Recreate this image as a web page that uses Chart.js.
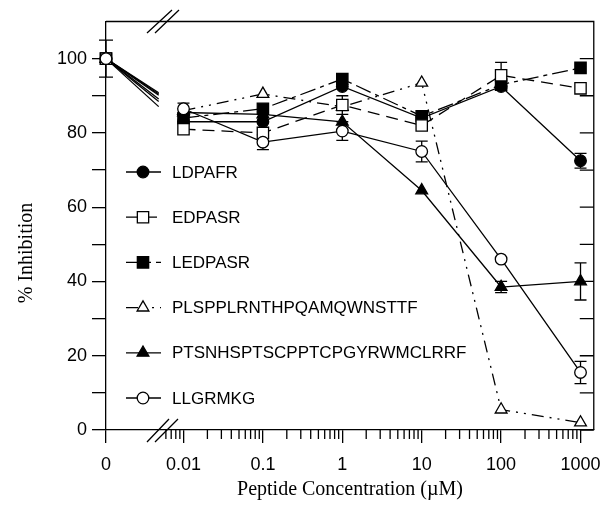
<!DOCTYPE html>
<html>
<head>
<meta charset="utf-8">
<script src="https://cdn.jsdelivr.net/npm/chart.js@4.4.1/dist/chart.umd.min.js"></script>
<style>
  html, body { margin: 0; padding: 0; background: #fff; }
  #wrap { width: 612px; height: 522px; }
</style>
</head>
<body>
<div id="wrap"><canvas id="myChart" width="612" height="522"></canvas></div>
<script>
// concentrations in uM, 0 is drawn left of the axis break
let concentrations = [0, 0.01, 0.1, 1, 10, 100, 1000];
let xTickLabels = ['0', '0.01', '0.1', '1', '10', '100', '1000'];
let yTickValues = [0, 10, 20, 30, 40, 50, 60, 70, 80, 90, 100];

let seriesNames = ['LDPAFR', 'EDPASR', 'LEDPASR', 'PLSPPLRNTHPQAMQWNSTTF', 'PTSNHSPTSCPPTCPGYRWMCLRRF', 'LLGRMKG'];

let ldpafr  = [100, 83, 83, 92.5, 84, 92.5, 72.5];
let edpasr  = [100, 81, 80, 87.5, 82, 95.5, 92];
let ledpasr = [100, 84, 86.5, 94.5, 84.5, 93, 97.5];
let plspp   = [100, 86, 90.5, 87, 93.5, 5.5, 2];
let ptsnh   = [100, 85.5, 85, 83, 64.5, 38.5, 40];
let llgrmkg = [100, 86.5, 77.5, 80.5, 75, 46, 15.5];

// half-width of the error bars (null = none drawn)
let ldpafrErr  = [null, null, null, null, null, null, 2];
let edpasrErr  = [null, null, null, 2.5, null, 3.5, null];
let ledpasrErr = [null, null, null, null, null, null, null];
let plsppErr   = [null, null, null, null, null, null, null];
let ptsnhErr   = [null, null, null, null, null, 1.5, 5];
let llgrmkgErr = [5, 1.5, 2, 2.5, 2.8, null, 3];

let zeroPos = -2.976;   // where "0" sits on the log axis
let xMin = -2.976, xMax = 3.167;
let xOf = c => c === 0 ? zeroPos : Math.log10(c);

let styles = [
  {pointStyle: 'circle',   radius: 5.8, fill: '#000', dash: [], order: 2},
  {pointStyle: 'rect',     radius: 8,   fill: '#fff', dash: [12, 7], order: 1},
  {pointStyle: 'rect',     radius: 8,   fill: '#000', dash: [16, 5, 4, 5], order: 2},
  {pointStyle: 'triangle', radius: 6.8, fill: '#fff', dash: [12, 6, 2, 6, 2, 6], order: 2},
  {pointStyle: 'triangle', radius: 6.8, fill: '#000', dash: [], order: 2},
  {pointStyle: 'circle',   radius: 5.8, fill: '#fff', dash: [], order: 0}
];
let allValues = [ldpafr, edpasr, ledpasr, plspp, ptsnh, llgrmkg];
let allErrors = [ldpafrErr, edpasrErr, ledpasrErr, plsppErr, ptsnhErr, llgrmkgErr];

let datasets = seriesNames.map((name, s) => ({
  label: name,
  data: concentrations.map((c, i) => ({x: xOf(c), y: allValues[s][i]})),
  order: styles[s].order,
  borderColor: '#000',
  borderWidth: 1.3,
  borderDash: styles[s].dash,
  pointStyle: styles[s].pointStyle,
  pointRadius: styles[s].radius,
  pointBackgroundColor: styles[s].fill,
  pointBorderColor: '#000',
  pointBorderWidth: 1.3,
  fill: false,
  tension: 0,
  clip: false,
  segment: {
    // the segment from 0 to 0.01 stops at the axis break
    borderDash: ctx => {
      if (ctx.p0DataIndex !== 0) return undefined;
      let d = Math.hypot(ctx.p1.x - ctx.p0.x, ctx.p1.y - ctx.p0.y);
      return [d * 0.68, 3000];
    }
  }
}));

let decorations = {
  id: 'decorations',
  beforeDatasetsDraw(chart) {
    let ctx = chart.ctx, xs = chart.scales.x, ys = chart.scales.y;
    ctx.save();
    ctx.strokeStyle = '#000';
    ctx.lineWidth = 1.3;
    allErrors.forEach((errs, s) => errs.forEach((e, i) => {
      if (e == null) return;
      let px = xs.getPixelForValue(xOf(concentrations[i]));
      let top = ys.getPixelForValue(allValues[s][i] + e);
      let bot = ys.getPixelForValue(allValues[s][i] - e);
      let cap = i === 0 ? 7 : 6;
      ctx.beginPath();
      ctx.moveTo(px, top); ctx.lineTo(px, bot);
      ctx.moveTo(px - cap, top); ctx.lineTo(px + cap, top);
      ctx.moveTo(px - cap, bot); ctx.lineTo(px + cap, bot);
      ctx.stroke();
    }));
    ctx.restore();
  },
  afterDraw(chart) {
    let ctx = chart.ctx, xs = chart.scales.x, ys = chart.scales.y;
    let a = chart.chartArea;
    ctx.save();
    ctx.strokeStyle = '#000';
    ctx.fillStyle = '#000';
    ctx.lineWidth = 1.3;

    // top and right border
    ctx.beginPath();
    ctx.moveTo(a.left, a.top); ctx.lineTo(a.right, a.top); ctx.lineTo(a.right, a.bottom);
    ctx.stroke();

    // inward ticks on the right side
    ctx.beginPath();
    yTickValues.forEach(v => {
      let py = ys.getPixelForValue(v);
      ctx.moveTo(a.right, py); ctx.lineTo(a.right - 14, py);
    });
    ctx.stroke();

    // minor log ticks on the x axis
    ctx.beginPath();
    for (let n = -3; n <= 2; n++) {
      for (let k = 2; k <= 9; k++) {
        let c = k * Math.pow(10, n);
        if (c < 0.0055) continue;
        let px = xs.getPixelForValue(Math.log10(c));
        ctx.moveTo(px, a.bottom); ctx.lineTo(px, a.bottom + 9);
      }
    }
    ctx.stroke();

    // axis break marks
    ctx.beginPath();
    [[147, 442, 169, 419], [155, 442, 178, 419], [147, 33, 172, 10], [155, 33, 179, 10]].forEach(l => {
      ctx.moveTo(l[0], l[1]); ctx.lineTo(l[2], l[3]);
    });
    ctx.stroke();

    // legend
    ctx.font = '17px "Liberation Sans", Arial, sans-serif';
    ctx.textBaseline = 'middle';
    ctx.textAlign = 'left';
    seriesNames.forEach((name, s) => {
      let y = 172 + s * 45.2;
      ctx.save();
      ctx.setLineDash(styles[s].dash);
      ctx.beginPath();
      ctx.moveTo(126, y); ctx.lineTo(161, y);
      ctx.stroke();
      ctx.restore();
      ctx.save();
      ctx.fillStyle = styles[s].fill;
      ctx.strokeStyle = '#000';
      ctx.lineWidth = 1.3;
      Chart.helpers.drawPoint(ctx, {pointStyle: styles[s].pointStyle, radius: styles[s].radius, rotation: 0, borderWidth: 1.3}, 143, y);
      ctx.restore();
      ctx.fillText(name, 172, y + 1);
    });

    // axis titles
    ctx.font = '20px "Liberation Serif", "Times New Roman", serif';
    ctx.textAlign = 'center';
    ctx.fillText('Peptide Concentration (\u00b5M)', 350, 490);
    ctx.save();
    ctx.translate(27, 253);
    ctx.rotate(-Math.PI / 2);
    ctx.fillText('% Inhibition', 0, 0);
    ctx.restore();

    ctx.restore();
  }
};

let ctx = document.getElementById('myChart').getContext('2d');
window.chart = new Chart(ctx, {
  type: 'line',
  data: { datasets: datasets },
  options: {
    responsive: false,
    animation: false,
    layout: { padding: { left: 0, right: 17, top: 21.5, bottom: 0 } },
    plugins: { legend: { display: false }, tooltip: { enabled: false } },
    scales: {
      x: {
        type: 'linear',
        min: xMin,
        max: xMax,
        afterBuildTicks: scale => {
          scale.ticks = concentrations.map(c => ({value: xOf(c)}));
        },
        afterFit: scale => { scale.height = 92; },
        grid: { drawOnChartArea: false, color: '#000', lineWidth: 1.3, tickLength: 13 },
        border: { color: '#000', width: 1.3 },
        ticks: {
          autoSkip: false,
          maxRotation: 0,
          padding: 11,
          color: '#000',
          font: { family: '"Liberation Sans", Arial, sans-serif', size: 18 },
          callback: (value, index) => xTickLabels[index]
        }
      },
      y: {
        min: 0,
        max: 110,
        afterBuildTicks: scale => {
          scale.ticks = yTickValues.map(v => ({value: v}));
        },
        afterFit: scale => { scale.width = 106; },
        grid: { drawOnChartArea: false, color: '#000', lineWidth: 1.3, tickLength: 14 },
        border: { color: '#000', width: 1.3 },
        ticks: {
          padding: 5,
          color: '#000',
          font: { family: '"Liberation Sans", Arial, sans-serif', size: 18 },
          callback: value => value % 20 === 0 ? String(value) : ''
        }
      }
    }
  },
  plugins: [decorations]
});
</script>
</body>
</html>
